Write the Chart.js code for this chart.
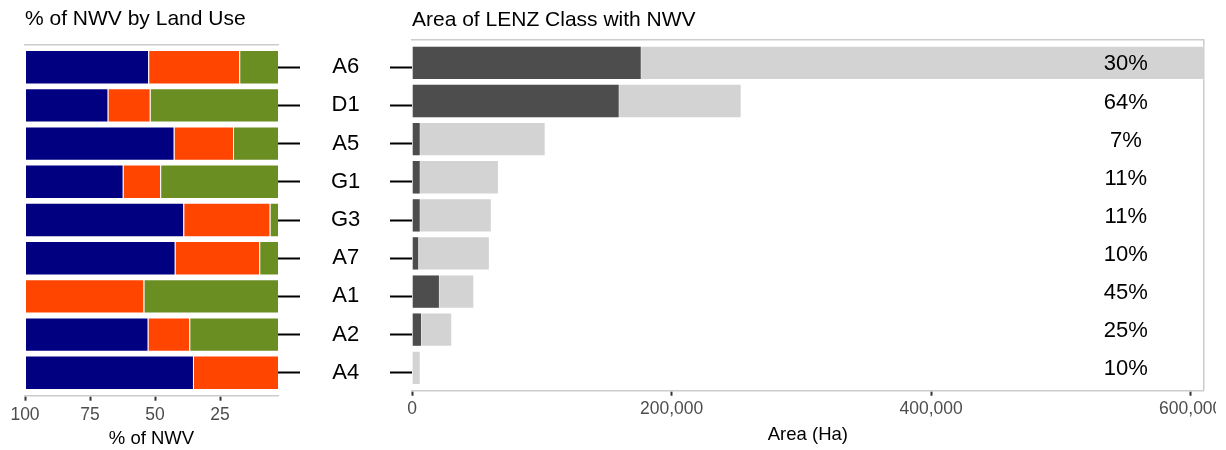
<!DOCTYPE html>
<html>
<head>
<meta charset="utf-8">
<script src="https://cdn.jsdelivr.net/npm/chart.js@4.4.1/dist/chart.umd.min.js"></script>
<style>
  html, body { margin: 0; padding: 0; background: #fff; overflow: hidden; }
  #left { position: absolute; left: 0; top: 0; }
  #rightWrap { position: absolute; left: 400px; top: 0; width: 816px; height: 450px; overflow: hidden; }
</style>
</head>
<body>
<canvas id="left" width="412" height="450"></canvas>
<div id="rightWrap"><canvas id="right" width="826" height="450"></canvas></div>
<script>
// LENZ classes, top to bottom
const classes = ['A6', 'D1', 'A5', 'G1', 'G3', 'A7', 'A1', 'A2', 'A4'];

// % of NWV by land use (three land-use groups, each row sums to 100)
const shareBlue   = [47.4, 31.8, 57.2, 37.6, 60.9, 57.6, 0, 47.2, 64.6];
const shareOrange = [35.0, 16.2, 22.8, 14.4, 33.2, 32.5, 45.6, 16.0, 35.4];
const shareGreen  = [17.6, 52.0, 20.0, 48.0, 5.9, 9.9, 54.4, 36.8, 0];
const shareTicks  = [100, 75, 50, 25];

// Area (ha) of each LENZ class, and the part of it with NWV
const classArea = [640000, 254000, 103000, 67000, 61500, 60000, 48000, 31000, 6700];
const nwvArea   = [177000, 160000, 6700, 6700, 6700, 5500, 21500, 7700, 600];
const nwvPercent = [30, 64, 7, 11, 11, 10, 45, 25, 10];
const areaTicks = [0, 200000, 400000, 600000];

const FONT = '"Liberation Sans", Arial, sans-serif';
Chart.defaults.font.family = FONT;

// rows sit on a numeric axis so the panel gets ggplot's 0.6 row margin
const rows = vals => vals.map((v, i) => ({ x: v, y: i }));
const rowTicks = s => { s.ticks = classes.map((c, i) => ({ value: i })); };
const rowAxis = { type: 'linear', min: -0.6, max: 8.6, reverse: true, offset: false, afterBuildTicks: rowTicks };

const barStyle = { barPercentage: 0.9, categoryPercentage: 1, borderWidth: 1, borderColor: 'rgba(255,255,255,0.35)' };

// Left: stacked land-use shares, axis reversed
new Chart(document.getElementById('left'), {
    type: 'bar',
    data: {
        datasets: [
            { label: 'Land use C', data: rows(shareGreen), backgroundColor: '#6B8E23' },
            { label: 'Land use B', data: rows(shareOrange), backgroundColor: '#FF4500' },
            { label: 'Land use A', data: rows(shareBlue), backgroundColor: '#000080' }
        ]
    },
    options: {
        indexAxis: 'y',
        responsive: false,
        animation: false,
        datasets: { bar: barStyle },
        layout: { padding: { left: 25, right: 0, top: 0, bottom: 0 } },
        plugins: {
            legend: { display: false },
            tooltip: { enabled: false },
            title: {
                display: true, text: '% of NWV by Land Use', align: 'start', color: '#000',
                font: { size: 21, weight: 'normal' }, padding: { top: 7, bottom: 12.1 }
            }
        },
        scales: {
            x: {
                type: 'linear', stacked: true, reverse: true, min: 2.7, max: 100,
                afterBuildTicks: s => { s.ticks = shareTicks.map(v => ({ value: v })); },
                grid: { drawOnChartArea: false, tickLength: 5, tickColor: '#333', tickWidth: 2 },
                border: { color: '#cccccc', width: 1.5 },
                ticks: { color: '#4d4d4d', font: { size: 17.5 }, padding: 3.8 },
                title: { display: true, text: '% of NWV', color: '#000', font: { size: 18.5, lineHeight: 1 }, padding: { top: 0, bottom: 2.2 } }
            },
            xTop: {
                type: 'linear', position: 'top', reverse: true, min: 2.7, max: 100,
                ticks: { display: false },
                grid: { drawOnChartArea: false, drawTicks: false },
                border: { color: '#cccccc', width: 1.5 }
            },
            y: Object.assign({}, rowAxis, {
                stacked: true, position: 'right', weight: 0,
                grid: { drawOnChartArea: false, offset: false, tickLength: 22, tickColor: '#000', tickWidth: 2 },
                border: { display: false },
                ticks: { color: '#000', font: { size: 22 }, padding: 31, crossAlign: 'center', callback: v => classes[v] },
                afterFit: s => { s.width = 112; s.paddingTop = 0; s.paddingBottom = 0; }
            }),
            y2: Object.assign({}, rowAxis, {
                position: 'right', weight: 1,
                grid: { drawOnChartArea: false, offset: false, tickLength: 22, tickColor: '#000', tickWidth: 2 },
                border: { display: false },
                ticks: { display: false }
            })
        }
    }
});

// percentage labels next to the area bars
const pctLabels = {
    id: 'pctLabels',
    afterDatasetsDraw(chart) {
        const { ctx, scales: { x, y } } = chart;
        ctx.save();
        ctx.font = '22px ' + FONT;
        ctx.fillStyle = '#000';
        ctx.textAlign = 'center';
        ctx.textBaseline = 'middle';
        nwvPercent.forEach((p, i) => {
            ctx.fillText(p + '%', x.getPixelForValue(550000), y.getPixelForValue(i) + 1.5);
        });
        ctx.restore();
    }
};

// Right: class area with NWV area overlaid
new Chart(document.getElementById('right'), {
    type: 'bar',
    data: {
        datasets: [
            { label: 'NWV area', data: rows(nwvArea), backgroundColor: '#4d4d4d', grouped: false },
            { label: 'LENZ class area', data: rows(classArea), backgroundColor: '#d3d3d3', grouped: false }
        ]
    },
    options: {
        indexAxis: 'y',
        responsive: false,
        animation: false,
        datasets: { bar: barStyle },
        layout: { padding: { left: 12, right: 20.3, top: 0, bottom: 0 } },
        plugins: {
            legend: { display: false },
            tooltip: { enabled: false },
            title: {
                display: true, text: 'Area of LENZ Class with NWV', align: 'start', color: '#000',
                font: { size: 21, weight: 'normal' }, padding: { top: 7.5, bottom: 7.3 }
            }
        },
        scales: {
            x: {
                type: 'linear', min: 0, max: 610000,
                afterBuildTicks: s => { s.ticks = areaTicks.map(v => ({ value: v })); },
                grid: { drawOnChartArea: false, tickLength: 5, tickColor: '#333', tickWidth: 2 },
                border: { color: '#cccccc', width: 1.5 },
                ticks: { color: '#4d4d4d', font: { size: 17.5 }, padding: 3.3, callback: v => v.toLocaleString('en-US') },
                title: { display: true, text: 'Area (Ha)', color: '#000', font: { size: 18.5, lineHeight: 1 }, padding: { top: 2, bottom: 6.2 } }
            },
            xTop: {
                type: 'linear', position: 'top', min: 0, max: 610000,
                ticks: { display: false },
                grid: { drawOnChartArea: false, drawTicks: false },
                border: { color: '#cccccc', width: 1.5 }
            },
            y: Object.assign({}, rowAxis, {
                position: 'right',
                grid: { drawOnChartArea: false, offset: false, drawTicks: false },
                ticks: { display: false },
                border: { color: '#cccccc', width: 1.5 }
            })
        }
    },
    plugins: [pctLabels]
});
</script>
</body>
</html>
